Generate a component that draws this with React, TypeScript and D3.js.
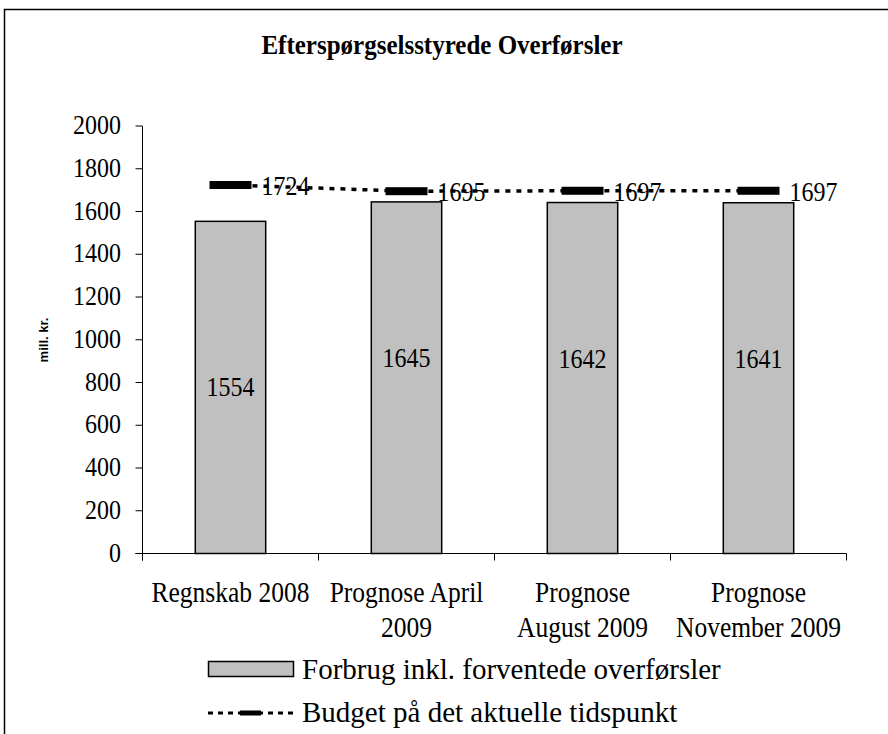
import React from "react";
import * as d3 from "d3";

const title = "Efterspørgselsstyrede Overførsler";
const yAxisLabel = "mill. kr.";
const categories = ["Regnskab 2008", "Prognose April 2009", "Prognose August 2009", "Prognose November 2009"];
const categoryLines = [["Regnskab 2008"], ["Prognose April", "2009"], ["Prognose", "August 2009"], ["Prognose", "November 2009"]];
const forbrug = [1554, 1645, 1642, 1641];
const budget = [1724, 1695, 1697, 1697];
const yTicks = [0, 200, 400, 600, 800, 1000, 1200, 1400, 1600, 1800, 2000];
const legendLabels = ["Forbrug inkl. forventede overførsler", "Budget på det aktuelle tidspunkt"];

const W = 888;
const H = 734;
const SERIF = "'Liberation Serif', 'Times New Roman', serif";
const SANS = "'Liberation Sans', Arial, sans-serif";
const SY = 1.12;

function T({ x, y, size, anchor = "start", children, weight = "normal", sy = SY, family = SERIF }: any) {
  return (
    <text
      transform={`translate(${x},${y}) scale(1,${sy})`}
      fontFamily={family}
      fontSize={size}
      fontWeight={weight}
      textAnchor={anchor}
      fill="#000"
    >
      {children}
    </text>
  );
}

export default function App() {
  const x = d3.scaleBand<string>().domain(categories).range([142.5, 846.5]).paddingInner(0.6).paddingOuter(0.3);
  const y = d3.scaleLinear().domain([0, 2000]).range([553.5, 126]);
  const step = x.step();
  const bw = x.bandwidth();
  const cx = (c: string) => (x(c) as number) + bw / 2;
  const labelFrac = [0.5, 0.555, 0.555, 0.555];

  const line = d3
    .line<number>()
    .x((_, i) => cx(categories[i]))
    .y((d) => y(d));

  const x0 = 142.5;
  const x1 = 846.5;
  const boundaries = d3.range(categories.length + 1).map((i) => x0 + i * step);

  return (
    <svg width={W} height={H} style={{ position: "absolute", left: 0, top: 0, background: "#fff" }}>
      <rect x={4.5} y={9.5} width={W + 20} height={H + 20} fill="#fff" stroke="#000" strokeWidth={1.5} />
      <T x={442} y={54} size={25} anchor="middle" weight="bold" sy={1.05}>
        {title}
      </T>
      <g transform={`translate(48,340) rotate(-90)`}>
        <text fontFamily={SANS} fontSize={13} fontWeight="bold" textAnchor="middle">
          {yAxisLabel}
        </text>
      </g>

      {/* y axis */}
      <line x1={x0} x2={x0} y1={y(2000)} y2={y(0) + 7} stroke="#000" strokeWidth={1} />
      {yTicks.map((t) => (
        <g key={t}>
          <line x1={x0 - 7} x2={x0} y1={y(t)} y2={y(t)} stroke="#000" strokeWidth={1} />
          <T x={121} y={y(t) + 8} size={24} anchor="end">
            {t}
          </T>
        </g>
      ))}

      {/* bars */}
      {forbrug.map((v, i) => (
        <rect
          key={i}
          x={x(categories[i])}
          y={y(v)}
          width={bw}
          height={y(0) - y(v)}
          fill="#C0C0C0"
          stroke="#000"
          strokeWidth={1.5}
        />
      ))}

      {/* x axis */}
      <line x1={x0 - 7} x2={x1} y1={y(0)} y2={y(0)} stroke="#000" strokeWidth={1} />
      {boundaries.map((b, i) => (
        <line key={i} x1={b} x2={b} y1={y(0)} y2={y(0) + 7} stroke="#000" strokeWidth={1} />
      ))}
      {categoryLines.map((lines, i) =>
        lines.map((l, j) => (
          <T key={i + "-" + j} x={cx(categories[i])} y={602 + j * 35} size={25.5} anchor="middle">
            {l}
          </T>
        ))
      )}

      {/* bar value labels */}
      {forbrug.map((v, i) => (
        <T key={i} x={cx(categories[i])} y={y(0) - (y(0) - y(v)) * labelFrac[i] + 9} size={24} anchor="middle">
          {v}
        </T>
      ))}

      {/* budget labels */}
      {budget.map((v, i) => (
        <T key={i} x={cx(categories[i]) + 31} y={y(v) + 10} size={24}>
          {v}
        </T>
      ))}

      {/* budget line */}
      <path d={line(budget) || ""} fill="none" stroke="#000" strokeWidth={3.5} strokeDasharray="5,6" />
      {budget.map((v, i) => (
        <rect key={i} x={cx(categories[i]) - 21} y={y(v) - 4} width={42} height={8} fill="#000" />
      ))}

      {/* legend */}
      <rect x={208.5} y={661.5} width={85} height={15} fill="#C0C0C0" stroke="#000" strokeWidth={1.5} />
      <T x={302} y={679} size={29} sy={1}>
        {legendLabels[0]}
      </T>
      <line x1={208} x2={293} y1={713} y2={713} stroke="#000" strokeWidth={3} strokeDasharray="5,5" />
      <rect x={240} y={710.5} width={21} height={5} fill="#000" />
      <T x={302} y={722} size={29} sy={1}>
        {legendLabels[1]}
      </T>
    </svg>
  );
}
